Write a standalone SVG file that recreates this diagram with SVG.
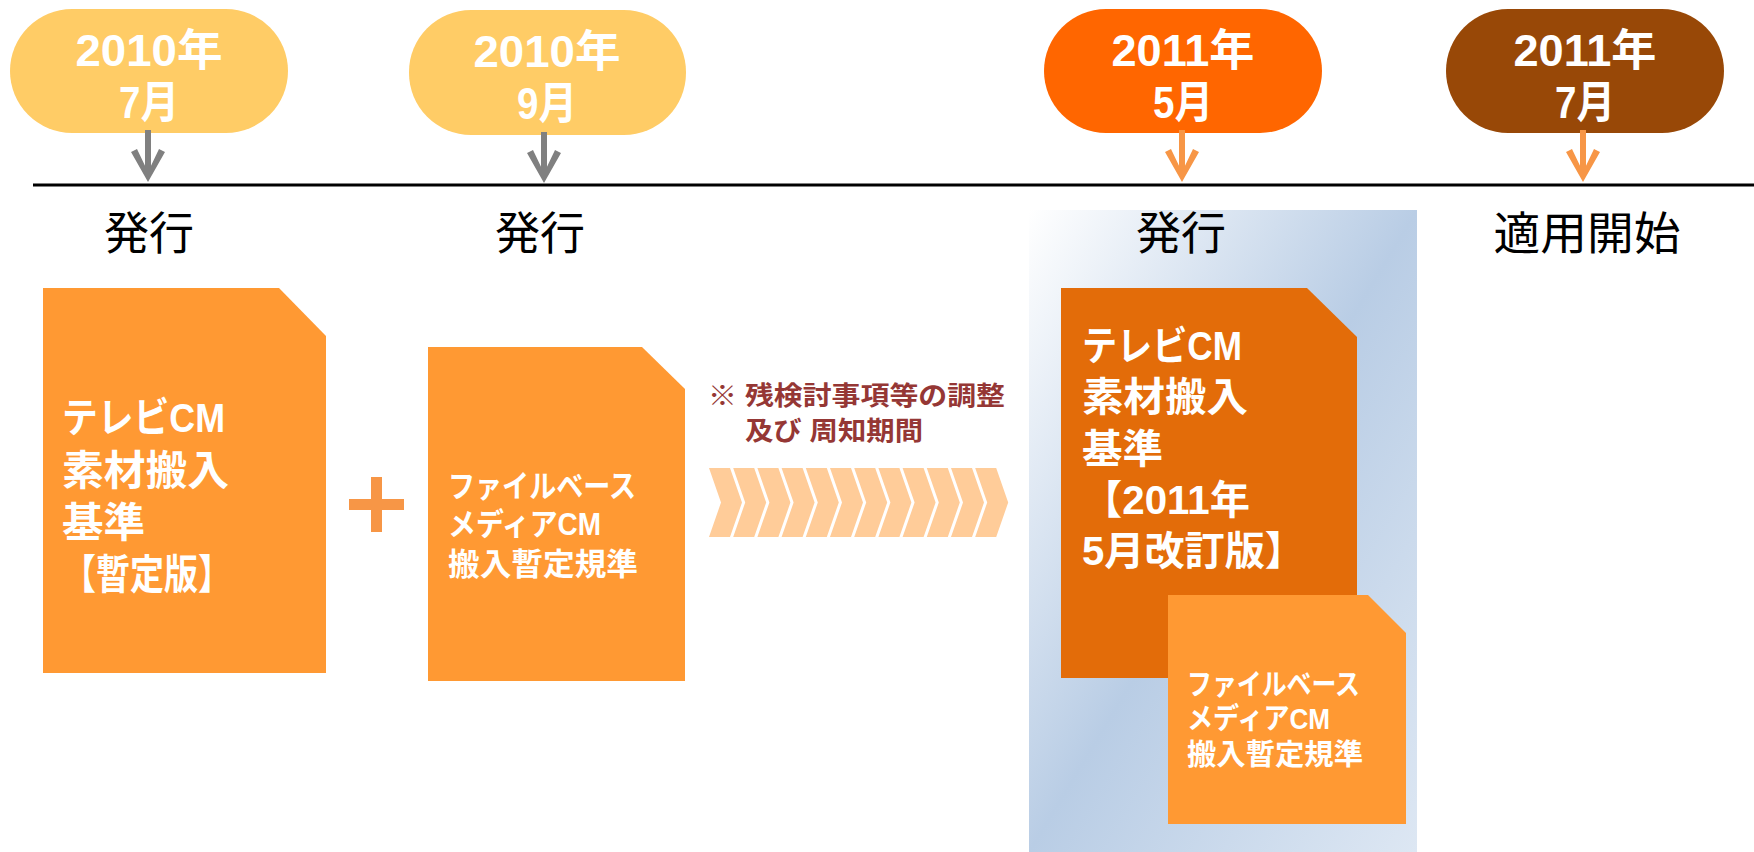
<svg xmlns="http://www.w3.org/2000/svg" width="1754" height="852" viewBox="0 0 1754 852">
<defs>
<linearGradient id="panelGrad" x1="0" y1="0" x2="1" y2="1">
<stop offset="0" stop-color="#FFFFFF"/>
<stop offset="0.5" stop-color="#B9CDE5"/>
<stop offset="1" stop-color="#DDE7F3"/>
</linearGradient>
<polygon id="chev" points="0,0 21,0 33,34.5 21,69 0,69 12,34.5"/>
</defs>
<style>
.pilltxt{font-family:"Liberation Sans","Noto Sans CJK JP",sans-serif;font-weight:700;font-size:44px;fill:#FFFFFF;text-anchor:middle}
.lbl{font-family:"Noto Sans CJK JP",sans-serif;font-weight:400;font-size:45px;fill:#000000;text-anchor:middle}
.doctxt{font-family:"Liberation Sans","Noto Sans CJK JP",sans-serif;font-weight:700;fill:#FFFFFF}
.note{font-family:"Liberation Sans","Noto Sans CJK JP",sans-serif;font-weight:700;font-size:26px;fill:#953735}
.arrG{fill:#808080}
.arrO{fill:#F79646}
</style>
<rect width="1754" height="852" fill="#FFFFFF"/>

<g id="panel">
<rect x="1029" y="210" width="388" height="642" fill="url(#panelGrad)"/>
</g>

<g id="pill1">
<rect x="10" y="9" width="278" height="124" rx="62" ry="62" fill="#FFCC66"/>
<text class="pilltxt" x="149" y="66" textLength="147" lengthAdjust="spacingAndGlyphs">2010年</text>
<text class="pilltxt" x="149" y="118" textLength="60" lengthAdjust="spacingAndGlyphs">7月</text>
</g>
<g id="pill2">
<rect x="409" y="10" width="277" height="125" rx="62" ry="62" fill="#FFCC66"/>
<text class="pilltxt" x="547" y="67" textLength="147" lengthAdjust="spacingAndGlyphs">2010年</text>
<text class="pilltxt" x="547" y="119" textLength="60" lengthAdjust="spacingAndGlyphs">9月</text>
</g>
<g id="pill3">
<rect x="1044" y="9" width="278" height="124" rx="62" ry="62" fill="#FF6600"/>
<text class="pilltxt" x="1183" y="66" textLength="143" lengthAdjust="spacingAndGlyphs">2011年</text>
<text class="pilltxt" x="1183" y="118" textLength="60" lengthAdjust="spacingAndGlyphs">5月</text>
</g>
<g id="pill4">
<rect x="1446" y="9" width="278" height="124" rx="62" ry="62" fill="#984807"/>
<text class="pilltxt" x="1585" y="66" textLength="143" lengthAdjust="spacingAndGlyphs">2011年</text>
<text class="pilltxt" x="1585" y="118" textLength="60" lengthAdjust="spacingAndGlyphs">7月</text>
</g>

<g id="connectors">
<line x1="33" y1="185" x2="1754" y2="185" stroke="#000000" stroke-width="3"/>
<g class="arrG">
<rect x="145" y="130" width="6" height="46"/>
<polygon points="131,152 137,149 148,172 159,149 165,152 148,182"/>
<rect x="541" y="132" width="6" height="45"/>
<polygon points="527,153 533,150 544,173 555,150 561,153 544,183"/>
</g>
<g class="arrO">
<rect x="1179" y="130" width="6" height="46"/>
<polygon points="1165,152 1171,149 1182,172 1193,149 1199,152 1182,182"/>
<rect x="1580" y="130" width="6" height="46"/>
<polygon points="1566,152 1572,149 1583,172 1594,149 1600,152 1583,182"/>
</g>
</g>

<g id="label1"><text class="lbl" x="149" y="250">発行</text></g>
<g id="label2"><text class="lbl" x="540" y="250">発行</text></g>
<g id="label3"><text class="lbl" x="1181" y="250">発行</text></g>
<g id="label4"><text class="lbl" x="1587" y="250" textLength="187" lengthAdjust="spacingAndGlyphs">適用開始</text></g>

<g id="doc1">
<polygon points="43,288 279,288 326,336 326,673 43,673" fill="#FF9933"/>
<text class="doctxt" font-size="41" x="62" y="432" textLength="163" lengthAdjust="spacingAndGlyphs">テレビCM</text>
<text class="doctxt" font-size="41" x="62" y="485" textLength="167" lengthAdjust="spacingAndGlyphs">素材搬入</text>
<text class="doctxt" font-size="41" x="62" y="537" textLength="83" lengthAdjust="spacingAndGlyphs">基準</text>
<text class="doctxt" font-size="41" x="62" y="589" textLength="170" lengthAdjust="spacingAndGlyphs">【暫定版】</text>
</g>

<g id="plus">
<rect x="349" y="499" width="55" height="11" fill="#F79646"/>
<rect x="371" y="477" width="11" height="55" fill="#F79646"/>
</g>

<g id="doc2">
<polygon points="428,347 642,347 685,389 685,681 428,681" fill="#FF9933"/>
<text class="doctxt" font-size="31" x="448" y="497" textLength="188" lengthAdjust="spacingAndGlyphs">ファイルベース</text>
<text class="doctxt" font-size="31" x="448" y="535" textLength="153" lengthAdjust="spacingAndGlyphs">メディアCM</text>
<text class="doctxt" font-size="31" x="448" y="575" textLength="190" lengthAdjust="spacingAndGlyphs">搬入暫定規準</text>
</g>

<g id="note">
<text class="note" x="708" y="405" textLength="297" lengthAdjust="spacingAndGlyphs">※ 残検討事項等の調整</text>
<text class="note" x="745" y="440" textLength="178" lengthAdjust="spacingAndGlyphs">及び 周知期間</text>
</g>

<g id="chevrons" fill="#FFCC99">
<use href="#chev" x="709" y="468"/>
<use href="#chev" x="733.2" y="468"/>
<use href="#chev" x="757.4" y="468"/>
<use href="#chev" x="781.6" y="468"/>
<use href="#chev" x="805.8" y="468"/>
<use href="#chev" x="830" y="468"/>
<use href="#chev" x="854.2" y="468"/>
<use href="#chev" x="878.4" y="468"/>
<use href="#chev" x="902.6" y="468"/>
<use href="#chev" x="926.8" y="468"/>
<use href="#chev" x="951" y="468"/>
<use href="#chev" x="975.2" y="468"/>
</g>

<g id="doc3">
<polygon points="1061,288 1307,288 1357,337 1357,678 1061,678" fill="#E36C09"/>
<text class="doctxt" font-size="40" x="1082" y="360" textLength="160" lengthAdjust="spacingAndGlyphs">テレビCM</text>
<text class="doctxt" font-size="40" x="1082" y="411" textLength="166" lengthAdjust="spacingAndGlyphs">素材搬入</text>
<text class="doctxt" font-size="40" x="1082" y="463" textLength="81" lengthAdjust="spacingAndGlyphs">基準</text>
<text class="doctxt" font-size="40" x="1082" y="514" textLength="168" lengthAdjust="spacingAndGlyphs">【2011年</text>
<text class="doctxt" font-size="40" x="1082" y="565" textLength="223" lengthAdjust="spacingAndGlyphs">5月改訂版】</text>
</g>

<g id="doc4">
<polygon points="1168,595 1368,595 1406,633 1406,824 1168,824" fill="#FF9933"/>
<text class="doctxt" font-size="29" x="1187" y="695" textLength="173" lengthAdjust="spacingAndGlyphs">ファイルベース</text>
<text class="doctxt" font-size="29" x="1187" y="729" textLength="143" lengthAdjust="spacingAndGlyphs">メディアCM</text>
<text class="doctxt" font-size="29" x="1187" y="765" textLength="176" lengthAdjust="spacingAndGlyphs">搬入暫定規準</text>
</g>
</svg>
